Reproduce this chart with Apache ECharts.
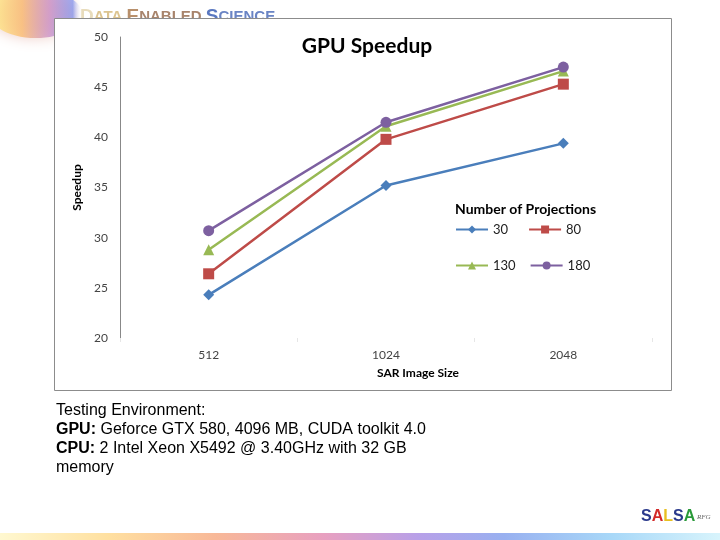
<!DOCTYPE html>
<html>
<head>
<meta charset="utf-8">
<script src="https://cdn.jsdelivr.net/npm/echarts@6/dist/echarts.min.js"></script>
<style>
html,body{margin:0;padding:0;background:#fff;}
#chart{width:720px;height:540px;}
</style>
</head>
<body>
<div id="chart"></div>
<script>
var categories = ['512', '1024', '2048'];
var seriesNames = ['30', '80', '130', '180'];
var values30 = [24.3, 35.2, 39.4];
var values80 = [26.4, 39.8, 45.3];
var values130 = [28.8, 41.1, 46.6];
var values180 = [30.7, 41.5, 47.0];
var yTicks = [20, 25, 30, 35, 40, 45, 50];

var colors = ['#4A7EBB', '#BE4B48', '#98B954', '#7D60A0'];
var symbols = ['diamond', 'rect', 'triangle', 'circle'];
var symbolSizes = [11, 11, 11, 11];
var allValues = [values30, values80, values130, values180];

var chart = echarts.init(document.getElementById('chart'));

var series = seriesNames.map(function (n, i) {
  return {
    name: n,
    type: 'line',
    data: allValues[i],
    symbol: symbols[i],
    symbolSize: symbolSizes[i],
    showAllSymbol: true,
    lineStyle: { color: colors[i], width: 2.5 },
    itemStyle: { color: colors[i] },
    z: 3 + i
  };
});

var legendText = { fontFamily: 'Lato', fontSize: 13, color: '#222' };

chart.setOption({
  animation: false,
  backgroundColor: '#fff',
  title: {
    text: 'GPU Speedup',
    left: 362, textAlign: 'center', top: 31,
    textStyle: { fontFamily: 'Lato', fontWeight: 'bold', fontSize: 21, color: '#000' }
  },
  grid: { left: 120, right: 68, top: 37, bottom: 202, containLabel: false },
  xAxis: {
    type: 'category',
    data: categories,
    boundaryGap: true,
    axisLine: { show: false },
    axisTick: { show: true, length: 4, lineStyle: { color: '#e6e6e6' } },
    axisLabel: { margin: 11, fontFamily: 'Lato', fontSize: 12, color: '#444' }
  },
  yAxis: {
    type: 'value',
    min: yTicks[0], max: yTicks[yTicks.length - 1], interval: 5,
    splitLine: { show: false },
    axisLine: { show: true, lineStyle: { color: '#888', width: 1 } },
    axisTick: { show: false },
    axisLabel: { margin: 12, fontFamily: 'Lato', fontSize: 12, color: '#444' },
    name: 'Speedup', nameLocation: 'middle', nameGap: 36, nameRotate: 90,
    nameTextStyle: { fontFamily: 'Lato', fontWeight: 'bold', fontSize: 12, color: '#000' }
  },
  legend: [
    { data: ['30', '80'], left: 455, top: 223, padding: 0, itemWidth: 32, itemHeight: 10, itemGap: 20, textStyle: legendText },
    { data: ['130', '180'], left: 455, top: 259, padding: 0, itemWidth: 32, itemHeight: 10, itemGap: 14, textStyle: legendText }
  ],
  series: series,
  graphic: [
    { type: 'ellipse', z: -10, shape: { cx: 36, cy: 14, rx: 46, ry: 24 },
      style: { fill: new echarts.graphic.LinearGradient(0, 0, 1, 0, [
        { offset: 0, color: 'rgba(255,240,140,0.85)' },
        { offset: 0.35, color: 'rgba(250,190,120,0.85)' },
        { offset: 0.65, color: 'rgba(200,140,200,0.75)' },
        { offset: 0.9, color: 'rgba(120,140,240,0.7)' },
        { offset: 1, color: 'rgba(255,255,255,0)' }]),
        shadowBlur: 14, shadowColor: 'rgba(230,180,170,0.8)' } },
    { type: 'text', z: -9, left: 80, top: 7,
      style: { text: '{a|D}{b|ATA }{c|E}{d|NABLED }{e|S}{f|CIENCE}',
        rich: {
          a: { fontFamily: 'Liberation Sans', fontWeight: 'bold', fontSize: 19, fill: '#e8dcbc' },
          b: { fontFamily: 'Liberation Sans', fontWeight: 'bold', fontSize: 15, fill: '#dcc490' },
          c: { fontFamily: 'Liberation Sans', fontWeight: 'bold', fontSize: 19, fill: '#b8906c' },
          d: { fontFamily: 'Liberation Sans', fontWeight: 'bold', fontSize: 15, fill: '#a8846c' },
          e: { fontFamily: 'Liberation Sans', fontWeight: 'bold', fontSize: 19, fill: '#5a78c0' },
          f: { fontFamily: 'Liberation Sans', fontWeight: 'bold', fontSize: 15, fill: '#6a84c4' }
        } } },
    { type: 'rect', z: -5, shape: { x: 54.5, y: 18.5, width: 617, height: 372 },
      style: { fill: '#fff', stroke: '#8c8c8c', lineWidth: 1 } },
    { type: 'text', left: 455, top: 202,
      style: { text: 'Number of Projections', fontFamily: 'Lato', fontWeight: 'bold', fontSize: 14, fill: '#000' } },
    { type: 'text', left: 377, top: 367,
      style: { text: 'SAR Image Size', textAlign: 'center', fontFamily: 'Lato', fontWeight: 'bold', fontSize: 12, fill: '#000' } },
    { type: 'text', left: 56, top: 401,
      style: { text: 'Testing Environment:\n{b|GPU:} Geforce GTX 580, 4096 MB, CUDA toolkit 4.0\n{b|CPU:} 2 Intel Xeon X5492 @ 3.40GHz with 32 GB\nmemory',
        fontFamily: 'Liberation Sans', fontSize: 16, lineHeight: 19, fill: '#000',
        rich: { b: { fontFamily: 'Liberation Sans', fontWeight: 'bold', fontSize: 16, lineHeight: 19, fill: '#000' } } } },
    { type: 'text', left: 641, top: 509,
      style: { text: '{s|S}{a|A}{l|L}{s2|S}{a2|A}{t| RFG}',
        rich: {
          s: { fontFamily: 'Liberation Sans', fontWeight: 'bold', fontSize: 16, fill: '#2b3a8c' },
          a: { fontFamily: 'Liberation Sans', fontWeight: 'bold', fontSize: 16, fill: '#d32a2a' },
          l: { fontFamily: 'Liberation Sans', fontWeight: 'bold', fontSize: 16, fill: '#e8c020' },
          s2: { fontFamily: 'Liberation Sans', fontWeight: 'bold', fontSize: 16, fill: '#2b3a8c' },
          a2: { fontFamily: 'Liberation Sans', fontWeight: 'bold', fontSize: 16, fill: '#2a9a3a' },
          t: { fontFamily: 'Liberation Serif', fontStyle: 'italic', fontSize: 7, fill: '#666' }
        } } },
    { type: 'rect', z: -10, shape: { x: 0, y: 533, width: 720, height: 7 },
      style: { fill: new echarts.graphic.LinearGradient(0, 0, 1, 0, [
        { offset: 0, color: '#fff8d0' },
        { offset: 0.15, color: '#ffe0a0' },
        { offset: 0.3, color: '#f8b898' },
        { offset: 0.45, color: '#e8a0c0' },
        { offset: 0.58, color: '#b8a0e8' },
        { offset: 0.7, color: '#98b0f0' },
        { offset: 0.85, color: '#a8d8f8' },
        { offset: 1, color: '#d8f4fc' }]) } }
  ]
});
</script>
</body>
</html>
